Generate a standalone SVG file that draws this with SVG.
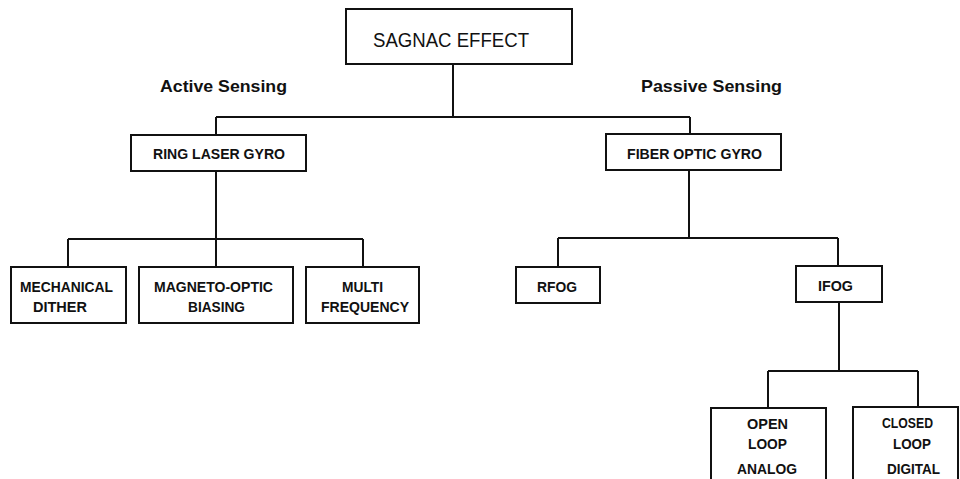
<svg xmlns="http://www.w3.org/2000/svg" width="960" height="479" viewBox="0 0 960 479">
<style>
.box{fill:#fff;stroke:#111;stroke-width:2}
.ln{fill:none;stroke:#111;stroke-width:2}
.t{font-family:"Liberation Sans",Arial,sans-serif;font-weight:bold;font-size:15px;fill:#111}
.h{font-family:"Liberation Sans",Arial,sans-serif;font-weight:bold;font-size:17px;fill:#111}
.top{font-family:"Liberation Sans",Arial,sans-serif;font-size:20px;fill:#111}
</style>
<rect width="960" height="479" fill="#fff"/>
<g id="connectors">
<path class="ln" d="M453 64V117M216 117H690M216 117V135M690 117V134"/>
<path class="ln" d="M216 171V239M68 239H363M68 239V267M216 239V267M363 239V267"/>
<path class="ln" d="M689 170V238M558 238H838M558 238V267M838 238V266"/>
<path class="ln" d="M839 302V371M768 371H918M768 371V408M918 371V407"/>
</g>
<g id="label-active"><text class="h" x="160" y="92" textLength="127" lengthAdjust="spacingAndGlyphs">Active Sensing</text></g>
<g id="label-passive"><text class="h" x="641" y="92" textLength="141" lengthAdjust="spacingAndGlyphs">Passive Sensing</text></g>
<g id="sagnac">
<rect class="box" x="346" y="9" width="226" height="55"/>
<text class="top" x="373" y="47" textLength="156" lengthAdjust="spacingAndGlyphs">SAGNAC EFFECT</text>
</g>
<g id="rlg">
<rect class="box" x="131" y="135" width="175" height="36"/>
<text class="t" x="153" y="159" textLength="132" lengthAdjust="spacingAndGlyphs">RING LASER GYRO</text>
</g>
<g id="fog">
<rect class="box" x="606" y="134" width="175" height="36"/>
<text class="t" x="627" y="159" textLength="135" lengthAdjust="spacingAndGlyphs">FIBER OPTIC GYRO</text>
</g>
<g id="mech">
<rect class="box" x="11" y="267" width="115" height="56"/>
<text class="t" x="20" y="292" textLength="93" lengthAdjust="spacingAndGlyphs">MECHANICAL</text>
<text class="t" x="33" y="312" textLength="54" lengthAdjust="spacingAndGlyphs">DITHER</text>
</g>
<g id="magneto">
<rect class="box" x="139" y="267" width="154" height="56"/>
<text class="t" x="154" y="292" textLength="119" lengthAdjust="spacingAndGlyphs">MAGNETO-OPTIC</text>
<text class="t" x="188" y="312" textLength="57" lengthAdjust="spacingAndGlyphs">BIASING</text>
</g>
<g id="multi">
<rect class="box" x="306" y="267" width="113" height="56"/>
<text class="t" x="342" y="292" textLength="41" lengthAdjust="spacingAndGlyphs">MULTI</text>
<text class="t" x="321" y="312" textLength="88" lengthAdjust="spacingAndGlyphs">FREQUENCY</text>
</g>
<g id="rfog">
<rect class="box" x="516" y="267" width="84" height="36"/>
<text class="t" x="537" y="292" textLength="40" lengthAdjust="spacingAndGlyphs">RFOG</text>
</g>
<g id="ifog">
<rect class="box" x="796" y="266" width="86" height="36"/>
<text class="t" x="818" y="291" textLength="35" lengthAdjust="spacingAndGlyphs">IFOG</text>
</g>
<g id="open">
<rect class="box" x="711" y="408" width="115" height="90"/>
<text class="t" x="747" y="429" textLength="41" lengthAdjust="spacingAndGlyphs">OPEN</text>
<text class="t" x="748" y="449" textLength="39" lengthAdjust="spacingAndGlyphs">LOOP</text>
<text class="t" x="737" y="474" textLength="60" lengthAdjust="spacingAndGlyphs">ANALOG</text>
</g>
<g id="closed">
<rect class="box" x="853" y="407" width="105" height="90"/>
<text class="t" x="882" y="428" textLength="51" lengthAdjust="spacingAndGlyphs">CLOSED</text>
<text class="t" x="893" y="449" textLength="38" lengthAdjust="spacingAndGlyphs">LOOP</text>
<text class="t" x="887" y="474" textLength="53" lengthAdjust="spacingAndGlyphs">DIGITAL</text>
</g>
</svg>
